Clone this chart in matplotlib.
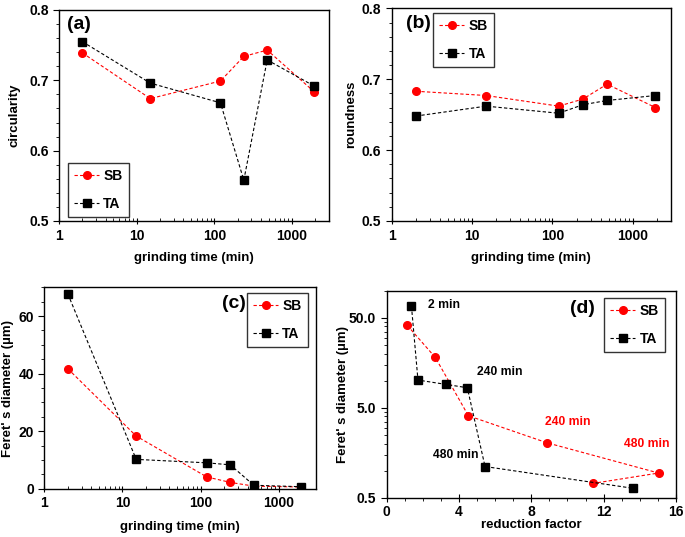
import matplotlib
matplotlib.use("Agg")
import matplotlib.pyplot as plt
from matplotlib.ticker import FixedLocator, MultipleLocator, NullFormatter, LogLocator, FormatStrFormatter
import numpy as np

plt.rcParams['font.family'] = ['Liberation Sans', 'DejaVu Sans']
plt.rcParams['font.weight'] = 'bold'

# ---- data ----
time_min = [2, 15, 120, 240, 480, 1920]

circ_sb = [0.739, 0.674, 0.699, 0.734, 0.743, 0.684]
circ_ta = [0.755, 0.696, 0.668, 0.558, 0.729, 0.692]

round_sb = [0.683, 0.677, 0.662, 0.672, 0.693, 0.660]
round_ta = [0.648, 0.662, 0.652, 0.664, 0.670, 0.677]

feret_sb = [41.7, 18.3, 4.1, 2.2, 0.9, 0.6]
feret_ta = [67.7, 10.2, 9.0, 8.3, 1.2, 0.7]

red_sb = [1.14, 2.69, 4.52, 8.86, 15.04, 11.40]
dfe_sb = [41.1, 18.1, 4.07, 2.04, 0.94, 0.72]
red_ta = [1.37, 1.73, 3.28, 4.46, 5.44, 13.65]
dfe_ta = [67.4, 10.15, 9.08, 8.34, 1.11, 0.635]

ann_text = ["2 min", "240 min", "480 min", "240 min", "480 min"]
ann_x = [2.3, 5.0, 2.55, 8.75, 13.1]
ann_y = [69, 12.6, 1.49, 3.5, 1.96]
ann_col = ["black", "black", "black", "red", "red"]

SB_COL = "#ff0000"
TA_COL = "black"

fig = plt.figure(figsize=(6.85, 5.37), dpi=100)

ax_a = fig.add_axes([0.0861, 0.5885, 0.3942, 0.3929])
ax_b = fig.add_axes([0.5718, 0.5885, 0.4078, 0.3960])
ax_c = fig.add_axes([0.0647, 0.0899, 0.3966, 0.3751])
ax_d = fig.add_axes([0.5645, 0.0732, 0.4223, 0.3855])

TICK_FS = 10
LAB_FS = 9.5
LEG_FS = 10


def draw(ax, x, ysb, yta):
    ax.plot(x, ysb, color=SB_COL, ls=(0, (3, 2)), lw=0.8, marker='o', ms=5.5,
            markerfacecolor=SB_COL, markeredgecolor=SB_COL, label='SB')
    ax.plot(x, yta, color=TA_COL, ls=(0, (3, 2)), lw=0.8, marker='s', ms=5.3,
            markerfacecolor=TA_COL, markeredgecolor=TA_COL, label='TA')


def style(ax):
    for s in ax.spines.values():
        s.set_linewidth(1.0)
        s.set_color('black')
    ax.tick_params(axis='both', which='major', labelsize=TICK_FS, length=4, width=0.8)
    ax.tick_params(axis='both', which='minor', length=2.5, width=0.6)
    ax.tick_params(axis='y', which='both', direction='out')
    for lab in ax.get_xticklabels() + ax.get_yticklabels():
        lab.set_fontweight('bold')


def legend(ax, loc, bbox):
    leg = ax.legend(loc=loc, bbox_to_anchor=bbox, frameon=True,
                    fancybox=False, edgecolor='black', handlelength=1.8,
                    handletextpad=0.3, labelspacing=1.0, borderpad=0.45,
                    borderaxespad=0.0,
                    prop={'weight': 'bold', 'size': LEG_FS})
    leg.get_frame().set_linewidth(1.0)
    return leg


def log_time_axis(ax, lpad=7):
    ax.set_xscale('log')
    ax.set_xlim(1, 3000)
    ax.xaxis.set_major_locator(FixedLocator([1, 10, 100, 1000]))
    ax.xaxis.set_major_formatter(FormatStrFormatter('%d'))
    ax.xaxis.set_minor_locator(LogLocator(base=10, subs=np.arange(2, 10)))
    ax.xaxis.set_minor_formatter(NullFormatter())
    ax.tick_params(axis='x', which='major', direction='inout', length=6)
    ax.tick_params(axis='x', which='minor', direction='in')
    ax.set_xlabel('grinding time (min)', fontsize=LAB_FS, fontweight='bold', labelpad=lpad)


# (a)
draw(ax_a, time_min, circ_sb, circ_ta)
log_time_axis(ax_a)
ax_a.set_ylim(0.5, 0.8)
ax_a.yaxis.set_major_locator(MultipleLocator(0.1))
ax_a.yaxis.set_minor_locator(MultipleLocator(0.02))
ax_a.yaxis.set_major_formatter(FormatStrFormatter('%.1f'))
ax_a.set_ylabel('circularity', fontsize=LAB_FS, fontweight='bold', labelpad=6)
style(ax_a)
legend(ax_a, 'lower left', (0.033, 0.019))
ax_a.text(0.03, 0.97, '(a)', transform=ax_a.transAxes, fontsize=14, fontweight='bold',
          va='top', ha='left')

# (b)
draw(ax_b, time_min, round_sb, round_ta)
log_time_axis(ax_b)
ax_b.set_ylim(0.5, 0.8)
ax_b.yaxis.set_major_locator(MultipleLocator(0.1))
ax_b.yaxis.set_minor_locator(MultipleLocator(0.02))
ax_b.yaxis.set_major_formatter(FormatStrFormatter('%.1f'))
ax_b.set_ylabel('roundness', fontsize=LAB_FS, fontweight='bold', labelpad=3)
style(ax_b)
legend(ax_b, 'upper left', (0.148, 0.978))
ax_b.text(0.05, 0.97, '(b)', transform=ax_b.transAxes, fontsize=14, fontweight='bold',
          va='top', ha='left')

# (c)
draw(ax_c, time_min, feret_sb, feret_ta)
log_time_axis(ax_c, lpad=8)
ax_c.set_ylim(0, 70)
ax_c.yaxis.set_major_locator(FixedLocator([0, 20, 40, 60]))
ax_c.yaxis.set_minor_locator(MultipleLocator(5))
ax_c.set_ylabel("Feret' s diameter (µm)", fontsize=LAB_FS, fontweight='bold', labelpad=3)
style(ax_c)
legend(ax_c, 'upper right', (0.97, 0.972))
ax_c.text(0.655, 0.96, '(c)', transform=ax_c.transAxes, fontsize=14, fontweight='bold',
          va='top', ha='left')

# (d)
ax_d.plot(red_sb, dfe_sb, color=SB_COL, ls=(0, (3, 2)), lw=0.8, marker='o', ms=5.5,
          markerfacecolor=SB_COL, markeredgecolor=SB_COL, label='SB')
ax_d.plot(red_ta, dfe_ta, color=TA_COL, ls=(0, (3, 2)), lw=0.8, marker='s', ms=5.3,
          markerfacecolor=TA_COL, markeredgecolor=TA_COL, label='TA')
ax_d.set_yscale('log')
ax_d.set_ylim(0.5, 100)
ax_d.set_xlim(0, 16)
ax_d.yaxis.set_major_locator(FixedLocator([0.5, 5.0, 50.0]))
ax_d.yaxis.set_major_formatter(FormatStrFormatter('%.1f'))
ax_d.yaxis.set_minor_locator(FixedLocator([0.5 * k for k in range(2, 10)] + [5 * k for k in range(2, 10)] + [100]))
ax_d.yaxis.set_minor_formatter(NullFormatter())
ax_d.xaxis.set_major_locator(MultipleLocator(4))
ax_d.xaxis.set_minor_locator(MultipleLocator(1))
ax_d.set_xlabel('reduction factor', fontsize=LAB_FS, fontweight='bold', labelpad=0.5)
ax_d.set_ylabel("Feret' s diameter (µm)", fontsize=LAB_FS, fontweight='bold', labelpad=0)
style(ax_d)
ax_d.tick_params(axis='x', which='major', direction='inout', length=6, pad=2)
ax_d.tick_params(axis='x', which='minor', direction='out')
legend(ax_d, 'upper right', (0.962, 0.965))
ax_d.text(0.634, 0.955, '(d)', transform=ax_d.transAxes, fontsize=14, fontweight='bold',
          va='top', ha='left')
for t, x, y, c in zip(ann_text, ann_x, ann_y, ann_col):
    ax_d.text(x, y, t, color=c, fontsize=8.7, fontweight='bold', ha='left', va='center')

fig.savefig('out.png', dpi=100)
